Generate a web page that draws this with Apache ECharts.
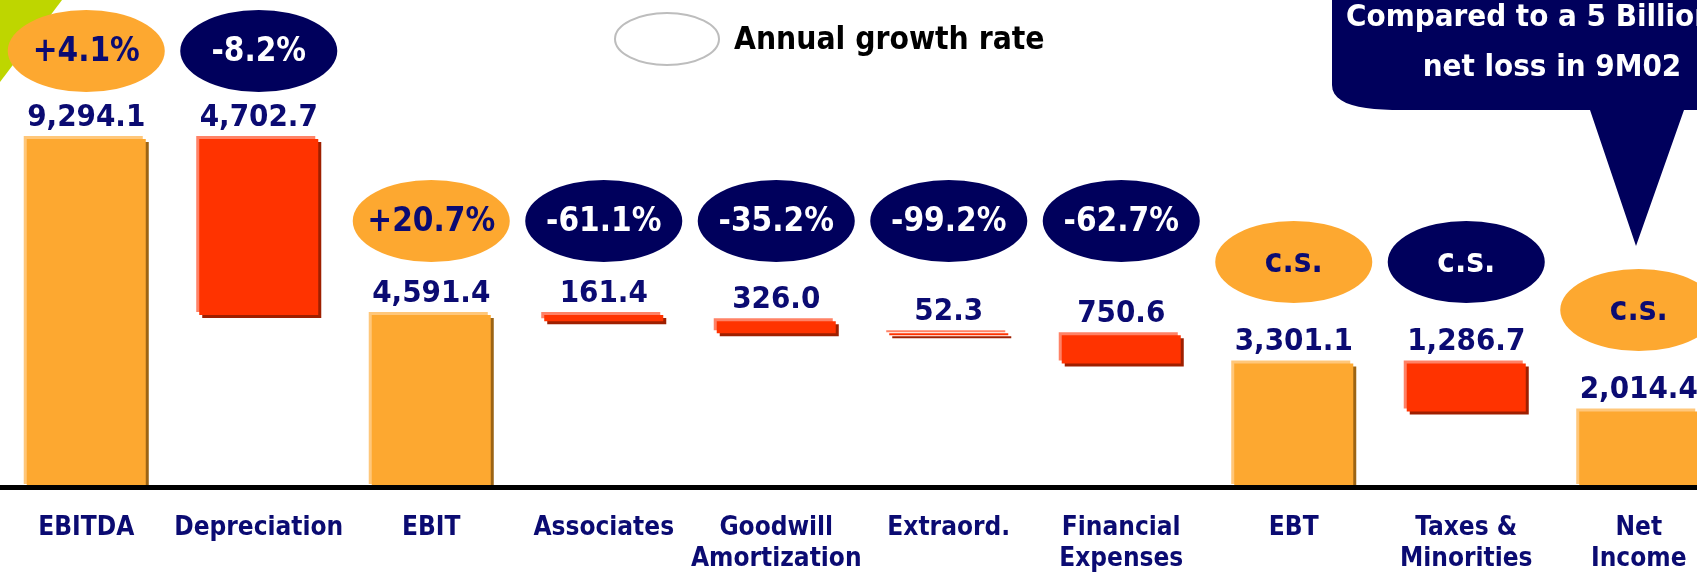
<!DOCTYPE html>
<html>
<head>
<meta charset="utf-8">
<title>EBITDA to Net Income bridge</title>
<script src="https://cdn.jsdelivr.net/npm/echarts@6/dist/echarts.min.js"></script>
<style>
  html, body { margin: 0; padding: 0; background: #ffffff; }
  #chart { width: 1697px; height: 572px; }
</style>
</head>
<body>
<div id="chart"></div>
<script>
// Bridge from EBITDA to Net Income (figures in millions)
const categories = ['EBITDA', 'Depreciation', 'EBIT', 'Associates', 'Goodwill\nAmortization',
  'Extraord.', 'Financial\nExpenses', 'EBT', 'Taxes &\nMinorities', 'Net\nIncome'];
const values = [9294.1, 4702.7, 4591.4, 161.4, 326.0, 52.3, 750.6, 3301.1, 1286.7, 2014.4];
// 'total' bars stand on the axis, 'decrease' bars hang from the running level
const kinds = ['total', 'decrease', 'total', 'decrease', 'decrease', 'decrease', 'decrease',
  'total', 'decrease', 'total'];
const growthLabels = ['+4.1%', '-8.2%', '+20.7%', '-61.1%', '-35.2%', '-99.2%', '-62.7%',
  'c.s.', 'c.s.', 'c.s.'];

// Layout: vertical centre (px) of the growth-rate badge above each column
const badgeRowY = [51, 51, 221, 221, 221, 221, 221, 262, 262, 310];

const FONT = '"DejaVu Sans Condensed", "DejaVu Sans", sans-serif';
const NAVY_TEXT = '#0B0B72';
const NAVY_FILL = '#00005C';
const palette = {
  total:    { main: '#FDA830', light: '#FFC77A', dark: '#9C6414', badge: '#FDA830', badgeText: NAVY_TEXT },
  decrease: { main: '#FF3300', light: '#FF8266', dark: '#9E1F00', badge: NAVY_FILL, badgeText: '#FFFFFF' }
};

// Running levels for the waterfall
const bridgeData = [];
let level = 0;
values.forEach((v, i) => {
  let low, high;
  if (kinds[i] === 'total') { low = 0; high = v; level = v; }
  else { high = level; low = level - v; level = low; }
  bridgeData.push([i, low, high]);
});

function fmt(v) {
  return v.toLocaleString('en-US', { minimumFractionDigits: 1, maximumFractionDigits: 1 });
}

function renderItem(params, api) {
  const i = api.value(0);
  const top = api.coord([i, api.value(2)]);
  const bottom = api.coord([i, api.value(1)]);
  const bw = api.size([1, 0])[0] * 0.69;
  const x = top[0] - bw / 2;
  const y = top[1];
  const h = bottom[1] - top[1];
  const c = palette[kinds[i]];
  return {
    type: 'group',
    children: [
      { type: 'rect', shape: { x: x + 3, y: y + 3, width: bw, height: h }, style: { fill: c.dark } },
      { type: 'rect', shape: { x: x - 3, y: y - 3, width: bw, height: h }, style: { fill: c.light } },
      { type: 'rect', shape: { x: x, y: y, width: bw, height: h }, style: { fill: c.main } },
      {
        type: 'text',
        style: {
          text: fmt(values[i]), x: top[0], y: y - 6,
          align: 'center', verticalAlign: 'bottom',
          font: 'bold 31px ' + FONT, fill: NAVY_TEXT
        }
      },
      {
        type: 'circle',
        shape: { cx: 0, cy: 0, r: 78.5 },
        x: top[0], y: badgeRowY[i], scaleY: 41 / 78.5,
        style: { fill: c.badge }
      },
      {
        type: 'text',
        style: {
          text: growthLabels[i], x: top[0], y: badgeRowY[i] + 1,
          align: 'center', verticalAlign: 'middle',
          font: 'bold 33px ' + FONT, fill: c.badgeText
        }
      }
    ]
  };
}

// Speech-bubble outline: box with a rounded lower-left corner and a pointer
function calloutPoints() {
  const pts = [[1332, -40], [1332, 85]];
  const p0 = [1332, 85], p1 = [1332, 105], p2 = [1362, 110], p3 = [1402, 110];
  for (let k = 1; k <= 12; k++) {
    const t = k / 12, u = 1 - t;
    pts.push([
      u * u * u * p0[0] + 3 * u * u * t * p1[0] + 3 * u * t * t * p2[0] + t * t * t * p3[0],
      u * u * u * p0[1] + 3 * u * u * t * p1[1] + 3 * u * t * t * p2[1] + t * t * t * p3[1]
    ]);
  }
  pts.push([1590, 110], [1636, 246], [1684, 110], [1760, 110], [1760, -40]);
  return pts;
}

const chart = echarts.init(document.getElementById('chart'), null, { renderer: 'canvas' });

chart.setOption({
  animation: false,
  backgroundColor: '#ffffff',
  grid: { left: 0, width: 1725, top: 112.6, bottom: 85, containLabel: false, outerBoundsMode: 'none' },
  xAxis: {
    type: 'category',
    data: categories,
    z: 5,
    axisTick: { show: false },
    axisLine: { lineStyle: { color: '#000000', width: 5 } },
    axisLabel: {
      interval: 0,
      margin: 26,
      color: NAVY_TEXT,
      fontFamily: FONT,
      fontWeight: 'bold',
      fontSize: 26,
      lineHeight: 31
    }
  },
  yAxis: { type: 'value', min: 0, max: 10000, show: false, splitLine: { show: false } },
  graphic: [
    // corner accent
    { type: 'polygon', z: 0, shape: { points: [[0, 0], [62, 0], [0, 82]] }, style: { fill: '#BED600' } },
    // legend
    {
      type: 'ellipse', shape: { cx: 667, cy: 39, rx: 52, ry: 26 },
      style: { fill: '#ffffff', stroke: '#BDBDBD', lineWidth: 2 }
    },
    {
      type: 'text', x: 734, y: 41,
      style: { text: 'Annual growth rate', font: 'bold 31.5px ' + FONT, fill: '#000000', verticalAlign: 'middle' }
    },
    // callout
    {
      type: 'polygon', z: 10,
      shape: { points: calloutPoints() },
      style: { fill: NAVY_FILL }
    },
    {
      type: 'text', z: 11, x: 1346, y: 18,
      style: { text: 'Compared to a 5 Billion', font: 'bold 31px ' + FONT, fill: '#ffffff', verticalAlign: 'middle' }
    },
    {
      type: 'text', z: 11, x: 1552, y: 68,
      style: { text: 'net loss in 9M02', font: 'bold 31px ' + FONT, fill: '#ffffff', align: 'center', verticalAlign: 'middle' }
    }
  ],
  series: [{
    type: 'custom',
    renderItem: renderItem,
    encode: { x: 0, y: [1, 2] },
    data: bridgeData,
    clip: false
  }]
});
</script>
</body>
</html>
